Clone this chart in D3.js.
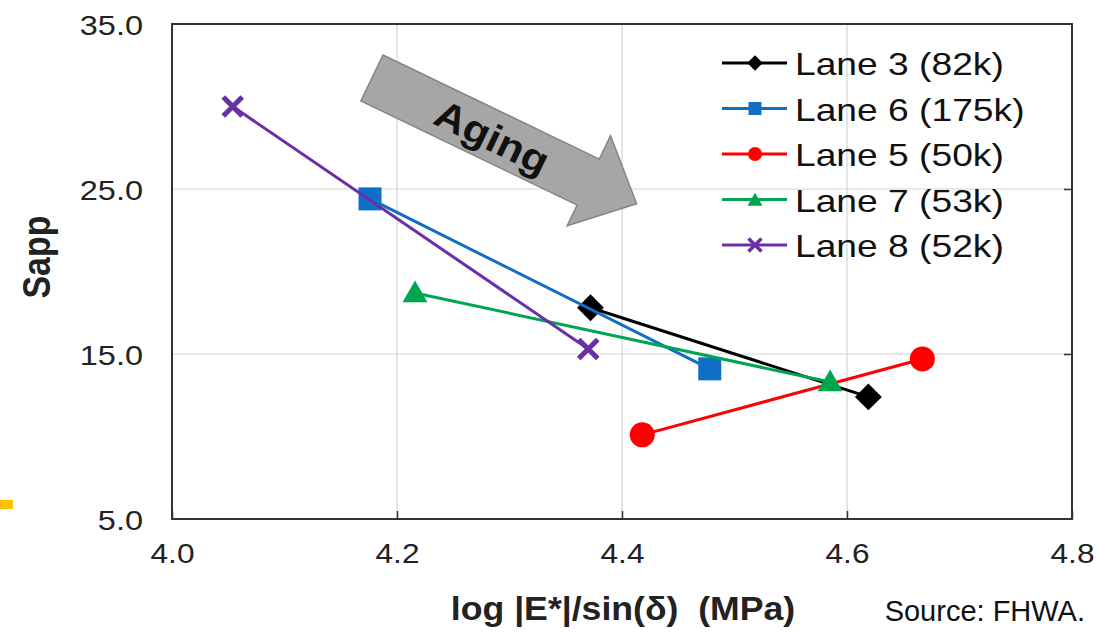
<!DOCTYPE html>
<html>
<head>
<meta charset="utf-8">
<script src="https://cdn.jsdelivr.net/npm/d3@7"></script>
<style>
  html, body { margin: 0; padding: 0; background: #fff; }
  svg { display: block; font-family: "Liberation Sans", Arial, sans-serif; }
</style>
</head>
<body>
<svg id="chart" width="1096" height="632"></svg>
<script>
// ---- data ----
const seriesNames = ["Lane 3 (82k)", "Lane 6 (175k)", "Lane 5 (50k)", "Lane 7 (53k)", "Lane 8 (52k)"];
const seriesColors = ["#000000", "#0e6fc4", "#ff0000", "#00a550", "#6a2fa8"];
const seriesMarkers = ["diamond", "square", "circle", "triangle", "x"];
const xValues = [
  [4.372, 4.619],
  [4.176, 4.478],
  [4.418, 4.667],
  [4.216, 4.585],
  [4.054, 4.370]
];
const yValues = [
  [17.8, 12.4],
  [24.4, 14.1],
  [10.1, 14.7],
  [18.7, 13.3],
  [30.0, 15.3]
];
const xTicks = [4.0, 4.2, 4.4, 4.6, 4.8];
const yTicks = [5, 15, 25, 35];
const xTitle = "log |E*|/sin(δ)  (MPa)";
const yTitle = "Sapp";
const annotation = "Aging";
const sourceText = "Source: FHWA.";

// ---- layout ----
const svg = d3.select("#chart");
const plot = { left: 172, right: 1072, top: 24, bottom: 519 };
const x = d3.scaleLinear().domain([4.0, 4.8]).range([plot.left, plot.right]);
const y = d3.scaleLinear().domain([5, 35]).range([plot.bottom, plot.top]);

// gridlines
const gx = svg.append("g");
gx.selectAll("line.vg").data(xTicks.slice(1, -1)).join("line")
  .attr("x1", d => x(d)).attr("x2", d => x(d))
  .attr("y1", plot.top).attr("y2", plot.bottom)
  .attr("stroke", "#d4d4d4").attr("stroke-width", 1.2);
gx.selectAll("line.hg").data(yTicks.slice(1, -1)).join("line")
  .attr("x1", plot.left).attr("x2", plot.right)
  .attr("y1", d => y(d)).attr("y2", d => y(d))
  .attr("stroke", "#d4d4d4").attr("stroke-width", 1.2);

// axes via d3 (inner ticks)
const xAxis = d3.axisBottom(x).tickValues(xTicks).tickSize(-8).tickFormat(d3.format(".1f"));
const gxa = svg.append("g").attr("transform", `translate(0,${plot.bottom})`).call(xAxis);
gxa.select(".domain").remove();
gxa.selectAll(".tick line").attr("stroke", "#333").attr("stroke-width", 1.5);
gxa.selectAll(".tick text")
  .attr("font-size", 28).attr("fill", "#222").attr("y", 0).attr("dy", 0)
  .attr("font-family", "Liberation Sans, Arial, sans-serif")
  .attr("transform", "translate(0,44) scale(1.13,1)");

const yAxis = d3.axisLeft(y).tickValues(yTicks).tickSize(0).tickFormat(d3.format(".1f"));
const gya = svg.append("g").attr("transform", `translate(${plot.left},0)`).call(yAxis);
gya.select(".domain").remove();
gya.selectAll(".tick text")
  .attr("font-size", 28).attr("fill", "#222").attr("x", 0).attr("dy", 0)
  .attr("font-family", "Liberation Sans, Arial, sans-serif")
  .attr("text-anchor", "end")
  .attr("transform", "translate(-29,10) scale(1.16,1)");

// right-side inner ticks
const yRight = d3.axisRight(y).tickValues(yTicks.slice(1, -1)).tickSize(-8).tickFormat("");
const gyr = svg.append("g").attr("transform", `translate(${plot.right},0)`).call(yRight);
gyr.select(".domain").remove();
gyr.selectAll(".tick line").attr("stroke", "#333").attr("stroke-width", 1.5);

// frame
svg.append("rect")
  .attr("x", plot.left).attr("y", plot.top)
  .attr("width", plot.right - plot.left).attr("height", plot.bottom - plot.top)
  .attr("fill", "none").attr("stroke", "#333").attr("stroke-width", 2);

// arrow annotation
const arrow = svg.append("g").attr("transform", "translate(383,55) rotate(25.7)");
arrow.append("path")
  .attr("d", "M0,0 L240,0 L240,-26 L293,24 L240,74 L240,51 L0,51 Z")
  .attr("fill", "#a6a6a6").attr("stroke", "#858585").attr("stroke-width", 1.5);
arrow.append("text")
  .attr("transform", "translate(134,27) scale(1.1,1)")
  .attr("text-anchor", "middle").attr("dominant-baseline", "central")
  .attr("font-size", 39).attr("font-weight", "bold").attr("fill", "#111")
  .text(annotation);

// marker drawing
function drawMarker(g, type, color, s) {
  if (type === "diamond") {
    g.append("path").attr("d", d3.symbol(d3.symbolSquare, s * s)())
      .attr("transform", "rotate(45)").attr("fill", color);
  } else if (type === "square") {
    g.append("path").attr("d", d3.symbol(d3.symbolSquare, s * s)()).attr("fill", color);
  } else if (type === "circle") {
    g.append("path").attr("d", d3.symbol(d3.symbolCircle, Math.PI * (s / 2) * (s / 2))()).attr("fill", color);
  } else if (type === "triangle") {
    g.append("path").attr("d", d3.symbol(d3.symbolTriangle, 0.433 * s * s)()).attr("transform", "translate(0,2)").attr("fill", color);
  } else if (type === "x") {
    const h = s / 2;
    g.append("path").attr("d", `M${-h},${-h}L${h},${h}M${-h},${h}L${h},${-h}`)
      .attr("stroke", color).attr("stroke-width", Math.max(3.5, s * 0.27)).attr("fill", "none");
  }
}

const markerSizes = { diamond: 19, square: 23, circle: 25, triangle: 25, x: 19 };

// series lines and markers
const line = d3.line().x(d => x(d[0])).y(d => y(d[1]));
seriesNames.forEach((name, i) => {
  const pts = xValues[i].map((xv, j) => [xv, yValues[i][j]]);
  const g = svg.append("g");
  g.append("path").attr("d", line(pts)).attr("fill", "none")
    .attr("stroke", seriesColors[i]).attr("stroke-width", 3);
  pts.forEach(p => {
    const mg = g.append("g").attr("transform", `translate(${x(p[0])},${y(p[1])})`);
    drawMarker(mg, seriesMarkers[i], seriesColors[i], markerSizes[seriesMarkers[i]]);
  });
});

// legend
const legend = svg.append("g").attr("transform", "translate(722,63)");
const legendMarkerSizes = { diamond: 11, square: 13, circle: 14, triangle: 15, x: 13 };
seriesNames.forEach((name, i) => {
  const row = legend.append("g").attr("transform", `translate(0,${i * 45.5})`);
  row.append("line").attr("x1", 0).attr("x2", 65).attr("y1", 0).attr("y2", 0)
    .attr("stroke", seriesColors[i]).attr("stroke-width", 3);
  const mg = row.append("g").attr("transform", "translate(33,0)");
  drawMarker(mg, seriesMarkers[i], seriesColors[i], legendMarkerSizes[seriesMarkers[i]]);
  row.append("text")
    .attr("transform", "translate(73,12) scale(1.2,1)")
    .attr("font-size", 31).attr("fill", "#111")
    .text(name);
});

// axis titles
svg.append("text")
  .attr("transform", `translate(${(plot.left + plot.right) / 2 + 1},620) scale(1.08,1)`)
  .attr("text-anchor", "middle").attr("font-size", 33).attr("font-weight", "bold").attr("fill", "#222")
  .style("white-space", "pre")
  .text(xTitle);
svg.append("text")
  .attr("transform", "translate(50,257) rotate(-90) scale(1,1.12)")
  .attr("text-anchor", "middle").attr("font-size", 34).attr("font-weight", "bold").attr("fill", "#222")
  .text(yTitle);

// source
svg.append("text")
  .attr("x", 1085).attr("y", 621).attr("text-anchor", "end")
  .attr("font-size", 29).attr("fill", "#111")
  .text(sourceText);

// small yellow mark at left edge
svg.append("rect").attr("x", 0).attr("y", 500).attr("width", 13).attr("height", 9).attr("fill", "#ffc000");
</script>
</body>
</html>
